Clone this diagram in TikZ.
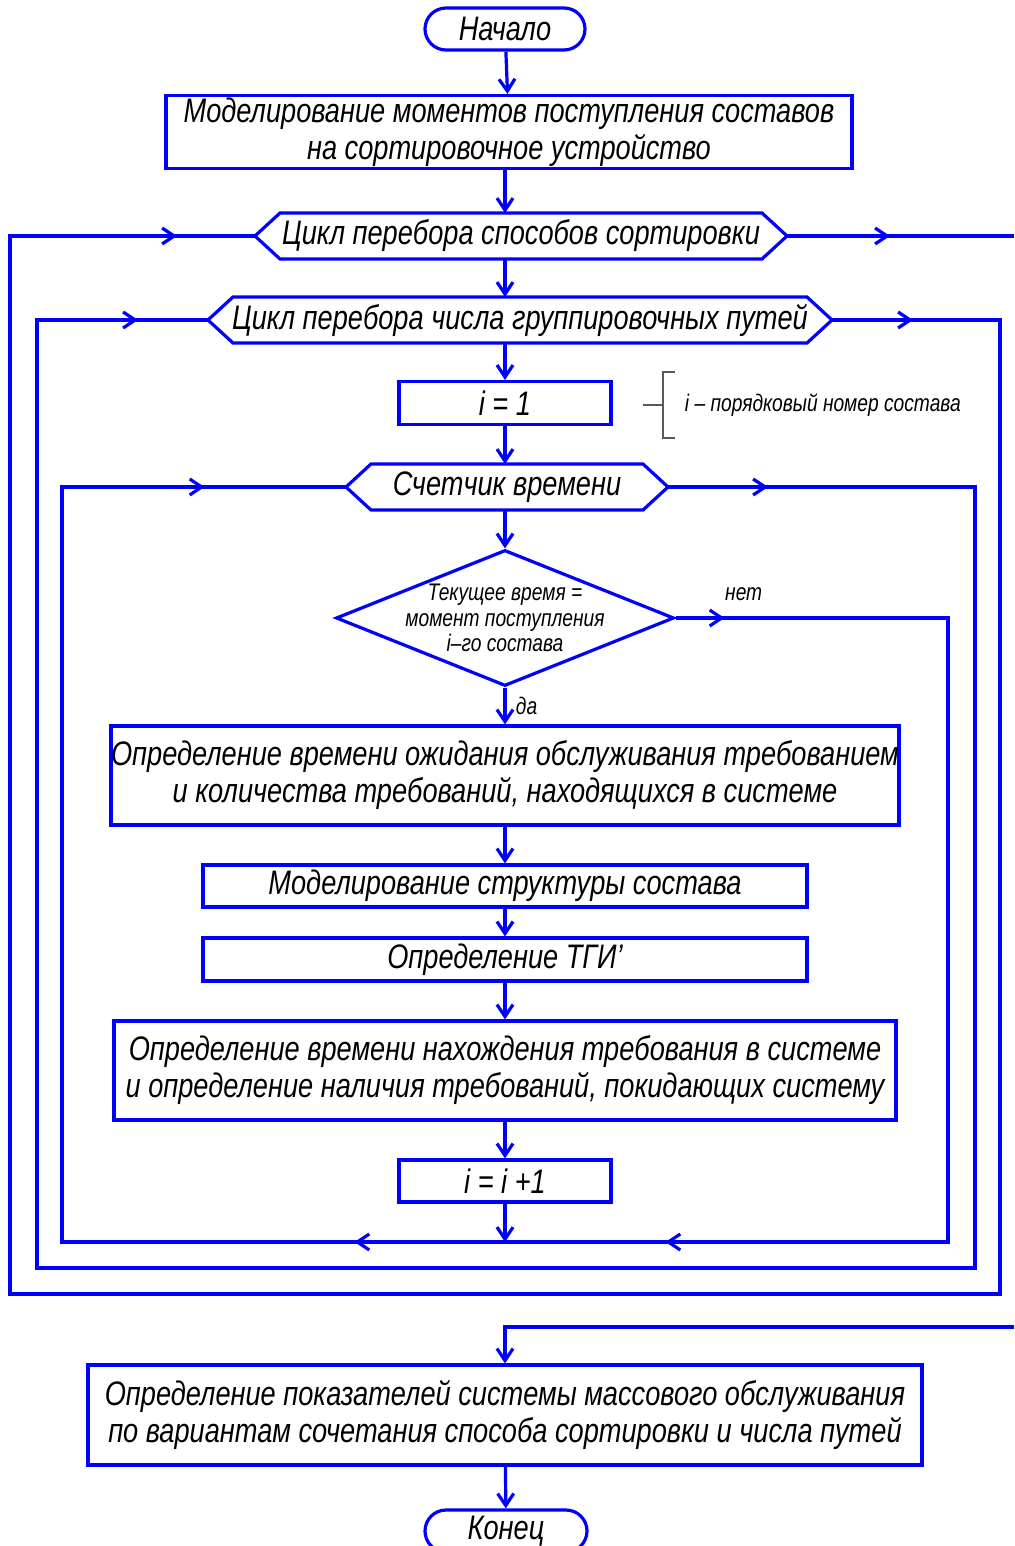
\documentclass[tikz,border=0pt]{standalone}
\usepackage{fontspec}
\setmainfont{Liberation Sans}[FakeStretch=0.8]
\usetikzlibrary{shapes.geometric,shapes.misc,arrows.meta,decorations.markings}
\definecolor{flowblue}{rgb}{0.0, 0.0, 1.0}
\newcommand\flowfont{\itshape\fontsize{34}{37}\selectfont}
\newcommand\smallfont{\itshape\fontsize{24}{25.5}\selectfont}
% hexagon round a loop node
\newcommand\hexframe[1]{\draw (#1.west) -- ([xshift=25pt]#1.north west) -- ([xshift=-25pt]#1.north east)
    -- (#1.east) -- ([xshift=-25pt]#1.south east) -- ([xshift=25pt]#1.south west) -- cycle;}

\begin{document}
\begin{tikzpicture}[x=1pt, y=-1pt, flowblue, line width=3.2pt,
    >={Straight Barb[length=12pt,width=16pt]},
    box/.style={draw, rectangle, text=black, inner sep=0pt, align=center, font=\flowfont},
    term/.style={draw, rounded rectangle, text=black, inner sep=0pt, minimum width=160pt, minimum height=42pt, font=\flowfont},
    loop/.style={rectangle, text=black, inner sep=0pt, outer sep=0pt, minimum height=46pt, font=\flowfont},
    decision/.style={draw, diamond, inner sep=0pt, minimum width=338pt, minimum height=136pt},
    arrowat/.style={postaction={decorate, decoration={markings, mark=at position #1 with {\arrow{>}}}}}]
    \useasboundingbox (0,0) rectangle (1014,1546);

    \node[term] (start) at (505,29) {Начало};
    \node[box, minimum width=686pt, minimum height=73pt] (model) at (509,132) {Моделирование моментов поступления составов\\на сортировочное устройство};
    \node[loop, minimum width=532pt] (sortloop) at (521,236) {Цикл перебора способов сортировки};
    \node[loop, minimum width=624pt] (trackloop) at (520,320) {Цикл перебора числа группировочных путей};
    \node[box, minimum width=212pt, minimum height=43pt] (init) at (505,403) {i = 1};
    \node[loop, minimum width=322pt] (timer) at (507,487) {Счетчик времени};
    \node[decision] (check) at (505,618) {};
    \node[text=black, font=\smallfont, align=center] (checktxt) at (505,618) {Текущее время =\\момент поступления\\i–го состава};
    \node[box, minimum width=782pt, minimum height=99pt] (wait) at (505,775.5) {Определение времени ожидания обслуживания требованием\\и количества требований, находящихся в системе};
    \node[box, minimum width=604pt, minimum height=42pt] (struct) at (505,886) {Моделирование структуры состава};
    \node[box, minimum width=604pt, minimum height=43pt] (tgi) at (505,959.5) {Определение ТГИ’};
    \node[box, minimum width=782pt, minimum height=99pt] (stay) at (505,1070.5) {Определение времени нахождения требования в системе\\и определение наличия требований, покидающих систему};
    \node[box, minimum width=212pt, minimum height=42pt] (next) at (505,1181) {i = i +1};
    \node[box, minimum width=834pt, minimum height=100pt] (result) at (505,1415) {Определение показателей системы массового обслуживания\\по вариантам сочетания способа сортировки и числа путей};
    \node[term, minimum width=162pt] (finish) at (506,1531) {Конец};

    \hexframe{sortloop}
    \hexframe{trackloop}
    \hexframe{timer}

    % note on i
    \node[text=black, font=\smallfont, anchor=west] (note) at (680,405) {i – порядковый номер состава};
    \draw[gray!70!black, line width=1.2pt] (643,405) -- (663,405) (675,372) -- (663,372) -- (663,438) -- (675,438);

    \coordinate (join) at (505,1242);
    \coordinate (exit) at (1014,236);
    \coordinate (return) at (1014,1327);

    % main line
    \draw[->] (start) -- (model);
    \draw[->] (model.south -| start) -- (sortloop.north -| start);
    \draw[->] (sortloop.south -| start) -- (trackloop.north -| start);
    \draw[->] (trackloop.south -| start) -- (init);
    \draw[->] (init) -- (timer.north -| init);
    \draw[->] (timer.south -| init) -- (check);
    \draw[->] (check) -- node[right=6pt, text=black, font=\smallfont]{да} (wait);
    \draw[->] (wait) -- (struct);
    \draw[->] (struct) -- (tgi);
    \draw[->] (tgi) -- (stay);
    \draw[->] (stay) -- (next);
    \draw[->] (next) -- (join);

    % loops
    \draw[arrowat=49pt, arrowat=1179pt, arrowat=1490pt, arrowat=2680pt]
      (check.east) -- node[above=12pt, pos=0.25, text=black, font=\smallfont]{нет} (948,618)
      -- (948,1242) -- (62,1242) -- (62,487) -- (timer.west);
    \draw[arrowat=100pt, arrowat=3075pt]
      (timer.east) -- (975,487) -- (975,1268) -- (37,1268) -- (37,320) -- (trackloop.west);
    \draw[arrowat=81pt, arrowat=3357pt]
      (trackloop.east) -- (1000,320) -- (1000,1294) -- (10,1294) -- (10,236) -- (sortloop.west);
    \draw[arrowat=103pt] (sortloop.east) -- (exit);
    \draw[->] (return) -| (result.north);
    \draw[->] (result) -- (finish);
\end{tikzpicture}
\end{document}
